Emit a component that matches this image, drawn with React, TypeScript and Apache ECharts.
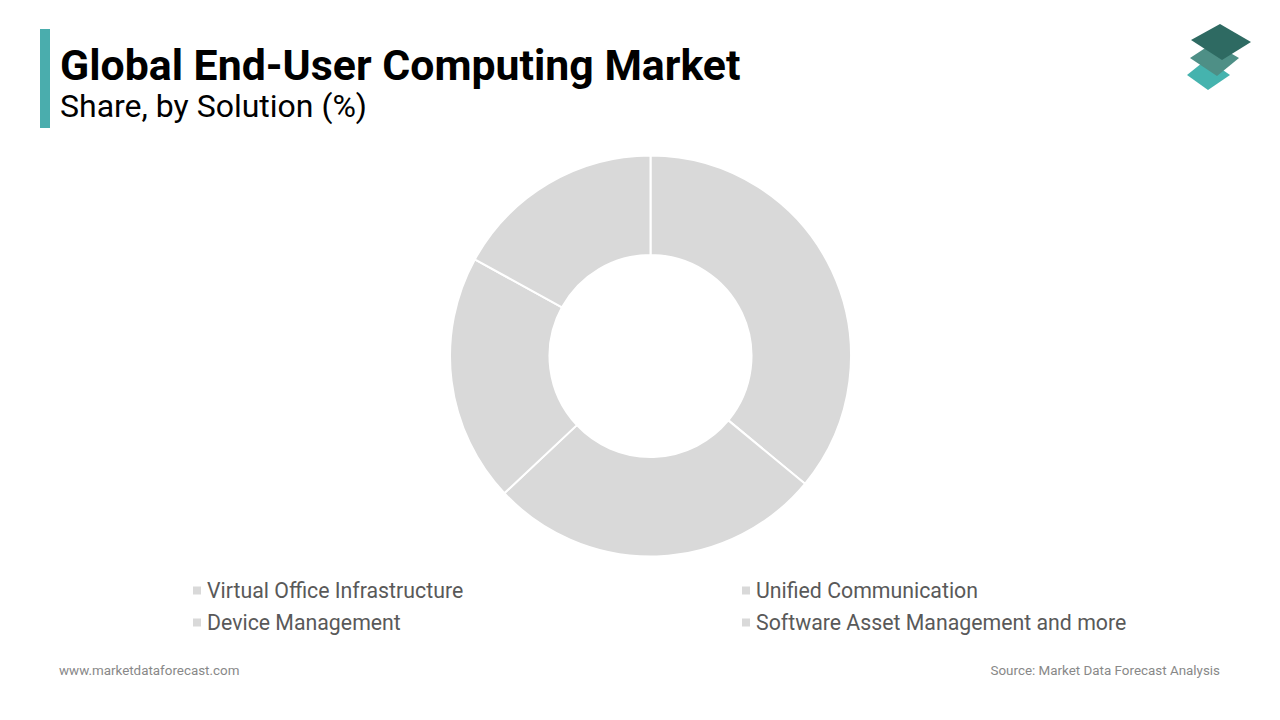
import React, { useEffect, useRef } from "react";
import * as echarts from "echarts";

const categories = [
  "Virtual Office Infrastructure",
  "Unified Communication",
  "Device Management",
  "Software Asset Management and more",
];
const shares = [36, 27, 20, 17];
const legendLeftItems = ["Virtual Office Infrastructure", "Device Management"];
const legendRightItems = ["Unified Communication", "Software Asset Management and more"];

const titleText = "Global End-User Computing Market";
const subtitleText = "Share, by Solution (%)";
const footerLeft = "www.marketdataforecast.com";
const footerRight = "Source: Market Data Forecast Analysis";

export default function App() {
  const ref = useRef<HTMLDivElement>(null);
  useEffect(() => {
    if (!ref.current) return;
    const chart = echarts.init(ref.current, null, { renderer: "svg" });
    const font = "Roboto, 'Noto Sans', sans-serif";
    const legendCommon = {
      orient: "vertical" as const,
      top: 579,
      padding: 0,
      itemGap: 9,
      itemWidth: 10,
      itemHeight: 10,
      icon: "rect",
      textStyle: { fontFamily: font, fontSize: 21.3, color: "#595959", lineHeight: 23 },
      selectedMode: false,
    };
    chart.setOption({
      animation: false,
      backgroundColor: "#ffffff",
      color: ["#d9d9d9", "#d9d9d9", "#d9d9d9", "#d9d9d9"],
      legend: [
        { ...legendCommon, left: 191, data: legendLeftItems },
        { ...legendCommon, left: 740, data: legendRightItems },
      ],
      series: [
        {
          type: "pie",
          center: [650.5, 356],
          radius: [101, 200.5],
          startAngle: 90,
          clockwise: true,
          label: { show: false },
          labelLine: { show: false },
          emphasis: { disabled: true },
          itemStyle: { borderColor: "#ffffff", borderWidth: 2 },
          data: categories.map((c, i) => ({ name: c, value: shares[i] })),
        },
      ],
      graphic: [
        { type: "rect", shape: { x: 40, y: 29, width: 10, height: 99 }, style: { fill: "#4aadad" } },
        {
          type: "text",
          style: { text: titleText, x: 60, y: 65, font: `bold 42.8px ${font}`, lineHeight: 36, fill: "#000000", verticalAlign: "middle" },
        },
        {
          type: "text",
          style: { text: subtitleText, x: 60, y: 106, font: `32px ${font}`, lineHeight: 28, fill: "#000000", verticalAlign: "middle" },
        },
        {
          type: "text",
          style: { text: footerLeft, x: 59, y: 670, font: `13.4px ${font}`, fill: "#888888", verticalAlign: "middle" },
        },
        {
          type: "text",
          style: { text: footerRight, x: 1220, y: 670, font: `13.4px ${font}`, fill: "#888888", align: "right", verticalAlign: "middle" },
        },
        {
          type: "polygon",
          shape: { points: [[1187, 75], [1207, 59], [1230, 75], [1208, 90]] },
          style: { fill: "#45b3ae" },
        },
        {
          type: "polygon",
          shape: { points: [[1190, 58], [1213, 43], [1239, 58], [1217, 76]] },
          style: { fill: "#4e8f86" },
        },
        {
          type: "polygon",
          shape: { points: [[1191, 40], [1220, 24], [1251, 42], [1222, 60]] },
          style: { fill: "#2e6a62" },
        },
      ],
    });
    return () => chart.dispose();
  }, []);
  return (
    <div
      ref={ref}
      style={{ position: "absolute", left: 0, top: 0, width: 1280, height: 720 }}
    />
  );
}
